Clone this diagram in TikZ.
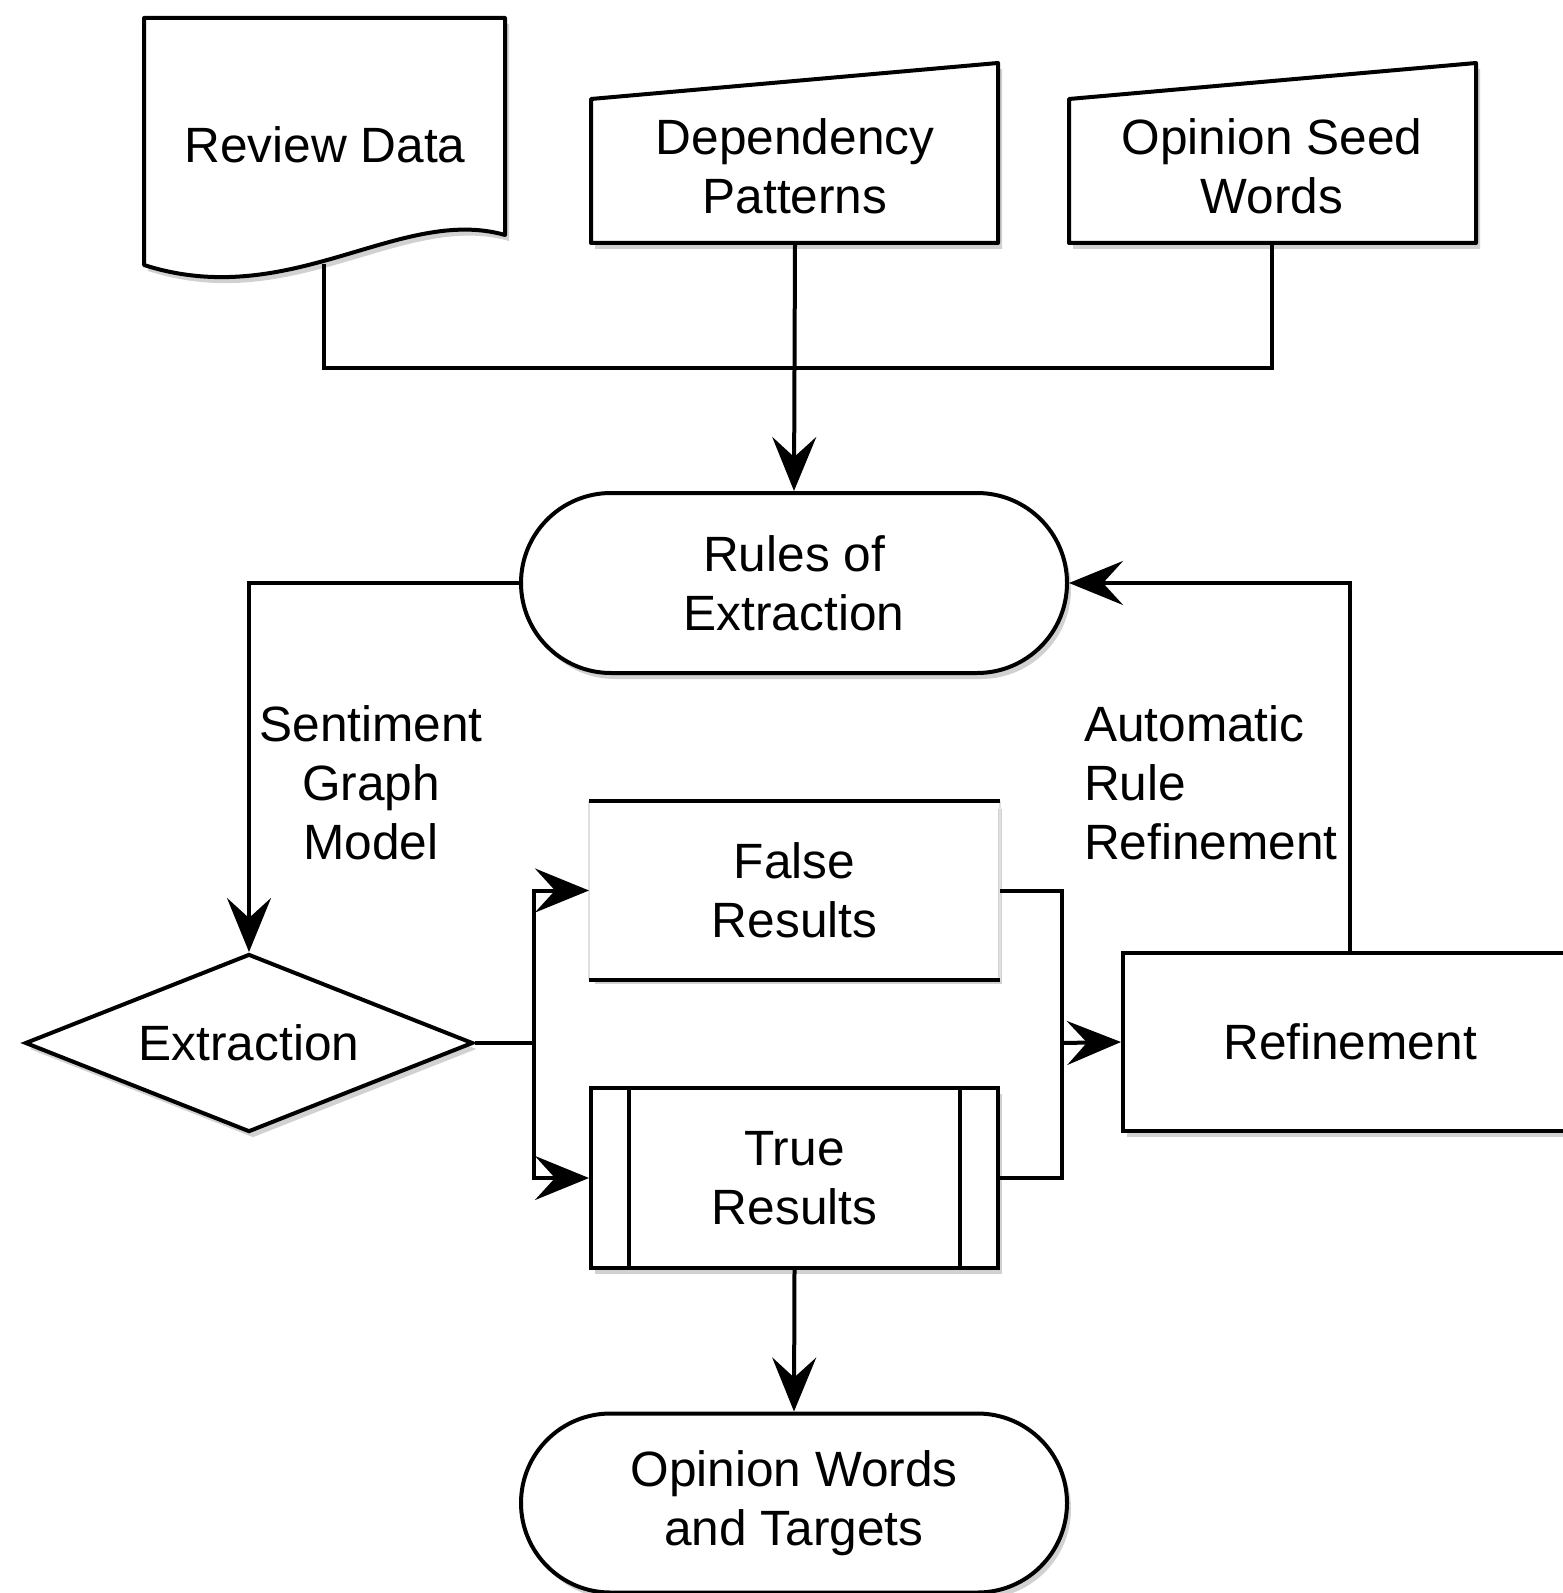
\documentclass[tikz,border=0pt]{standalone}
\usepackage{fontspec}
\setmainfont{Liberation Sans}
\usetikzlibrary{arrows.meta,shapes.geometric,shapes.misc,shadows}
\begin{document}
\begin{tikzpicture}[x=0.5pt,y=-0.5pt,
  line width=2pt,
  font=\fontsize{24.8pt}{29.5pt}\selectfont,
  shad/.style={drop shadow={shadow xshift=2pt,shadow yshift=-3pt,opacity=0.18,fill=black}},
  arr/.style={-{Stealth[length=27pt,width=22pt,inset=10pt]}},
  txt/.style={align=center,inner sep=0pt},
  terminal/.style={rounded rectangle,draw,fill=white,shad,minimum width=273pt,inner sep=0pt,align=center},
  plainbox/.style={rectangle,inner sep=0pt,align=center,minimum width=203.5pt}
]
\useasboundingbox (0,0) rectangle (1562,1593);
\fill[white] (0,0) rectangle (1562,1593);

% Review Data (document)
\path[draw,fill=white,shad,line join=round] (144,18) -- (505,18) -- (505,235)
  .. controls (400,205) and (290,312) .. (144,265) -- cycle;
\node[txt] (rdt) at (325,145) {Review Data};
\coordinate (rdb) at (324,264);

% Dependency Patterns (manual input)
\path[draw,fill=white,shad,line join=round] (591,99) -- (998,63) -- (998,243) -- (591,243) -- cycle;
\node[txt] (dept) at (795,166) {Dependency\\Patterns};
\coordinate (depb) at (795,243);

% Opinion Seed Words (manual input)
\path[draw,fill=white,shad,line join=round] (1069,99) -- (1476,63) -- (1476,243) -- (1069,243) -- cycle;
\node[txt] (seedt) at (1272,166) {Opinion Seed\\Words};
\coordinate (seedb) at (1272,243);

% Rules of Extraction
\node[terminal,minimum height=90pt] (rules) at (794,583) {Rules of\\Extraction};

% Extraction diamond
\node[diamond,draw,fill=white,shad,aspect=2.52,minimum width=224pt,minimum height=89pt,inner sep=0pt] (extr) at (249,1043) {Extraction};

% False Results (display lines)
\node[plainbox,fill=white,shad,minimum height=87.5pt] (false) at (794.5,890.5) {False\\Results};
\draw[black!12,line width=1pt] (false.north west) -- (false.south west) (false.north east) -- (false.south east);
\draw (false.north west) -- (false.north east);
\draw (false.south west) -- (false.south east);

% True Results (predefined process)
\node[plainbox,draw,fill=white,shad,minimum height=90pt] (true) at (794.5,1178) {True\\Results};
\draw ([xshift=20pt]true.north west) -- ([xshift=20pt]true.south west);
\draw ([xshift=-20pt]true.north east) -- ([xshift=-20pt]true.south east);

% Refinement
\node[rectangle,draw,fill=white,shad,minimum width=227pt,minimum height=89pt,inner sep=0pt] (refine) at (1350,1042) {Refinement};

% Opinion Words and Targets
\node[terminal,minimum height=89.5pt] (opinion) at (794,1503) {Opinion Words\\and Targets};

% Labels
\node[txt] (sgm) at (371,783) {Sentiment\\Graph\\Model};
\node[align=left,inner sep=0pt,anchor=west] (arr) at (1082,783) {Automatic\\Rule\\Refinement};

% Connectors
\coordinate (j) at (795,368);
\coordinate (split) at (534,1043);
\coordinate (merge) at (1062,1043);
\draw[line join=miter] (rdb) |- (j) -| (seedb);
\draw[arr] (depb) -- (rules.north);
\draw[arr] (rules.west) -| (extr.north);
\draw (extr.east) -- (split);
\draw[arr] (split) |- (false.west);
\draw[arr] (split) |- (true.west);
\draw (false.east) -| (merge) |- (true.east);
\draw[arr] (merge) -- (refine.west);
\draw[arr] (refine.north) |- (rules.east);
\draw[arr] (true.south) -- (opinion.north);
\end{tikzpicture}
\end{document}
